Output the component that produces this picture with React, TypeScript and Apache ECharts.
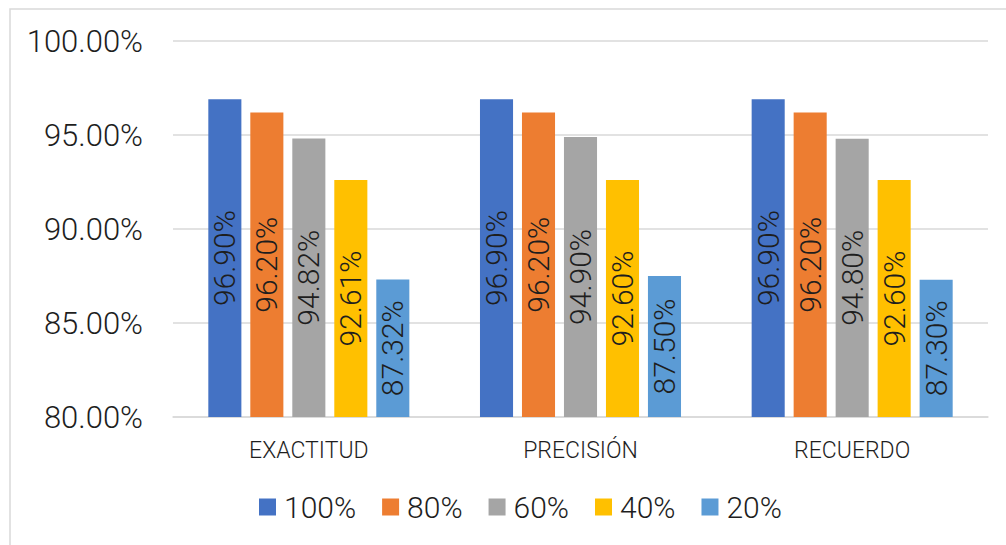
import React, { useEffect, useRef } from "react";
import * as echarts from "echarts";

const categories = ["EXACTITUD", "PRECISIÓN", "RECUERDO"];
const seriesNames = ["100%", "80%", "60%", "40%", "20%"];
const values100 = [96.9, 96.9, 96.9];
const values80 = [96.2, 96.2, 96.2];
const values60 = [94.82, 94.9, 94.8];
const values40 = [92.61, 92.6, 92.6];
const values20 = [87.32, 87.5, 87.3];
const colors = ["#4472C4", "#ED7D31", "#A5A5A5", "#FFC000", "#5B9BD5"];

const FONT = "Roboto, 'Noto Sans', sans-serif";
const TEXT = "#1e1e1e";

export default function App() {
  const ref = useRef<HTMLDivElement>(null);

  useEffect(() => {
    document.body.style.margin = "0";
    if (!ref.current) return;
    const chart = echarts.init(ref.current, undefined, { renderer: "svg" });
    const allValues = [values100, values80, values60, values40, values20];
    chart.setOption({
      animation: false,
      backgroundColor: "#ffffff",
      textStyle: { fontFamily: FONT },
      graphic: [
        {
          type: "rect",
          shape: { x: 10, y: 9, width: 1020, height: 560 },
          style: { fill: "none", stroke: "#d9d9d9", lineWidth: 1.5 },
          silent: true,
        },
      ],
      grid: { left: 173, right: 18, top: 41, bottom: 128 },
      legend: {
        left: 254,
        top: 487,
        itemWidth: 17,
        itemHeight: 17,
        itemGap: 26,
        icon: "rect",
        textStyle: {
          fontSize: 30,
          color: TEXT,
          fontFamily: FONT,
          fontWeight: 300,
          padding: [0, 0, 0, 3],
        },
        data: seriesNames,
      },
      xAxis: {
        type: "category",
        data: categories,
        axisTick: { show: false },
        axisLine: { lineStyle: { color: "#d9d9d9", width: 1.5 } },
        axisLabel: { fontSize: 23, color: TEXT, margin: 22, fontFamily: FONT, fontWeight: 300 },
      },
      yAxis: {
        type: "value",
        min: 80,
        max: 100,
        interval: 5,
        axisLine: { show: false },
        axisTick: { show: false },
        splitLine: { lineStyle: { color: "#d9d9d9", width: 1.5 } },
        axisLabel: {
          fontSize: 31,
          color: TEXT,
          margin: 30,
          fontFamily: FONT,
          fontWeight: 300,
          formatter: (v: number) => v.toFixed(2) + "%",
        },
      },
      series: seriesNames.map((name, i) => ({
        name,
        type: "bar",
        data: allValues[i],
        itemStyle: { color: colors[i] },
        barGap: "27%",
        barCategoryGap: "26%",
        label: {
          show: true,
          position: "inside",
          rotate: 90,
          fontSize: 30,
          color: TEXT,
          fontFamily: FONT,
          fontWeight: 300,
          formatter: (p: any) => Number(p.value).toFixed(2) + "%",
        },
      })),
    });
    return () => chart.dispose();
  }, []);

  return <div ref={ref} style={{ width: 1006, height: 545 }} />;
}
